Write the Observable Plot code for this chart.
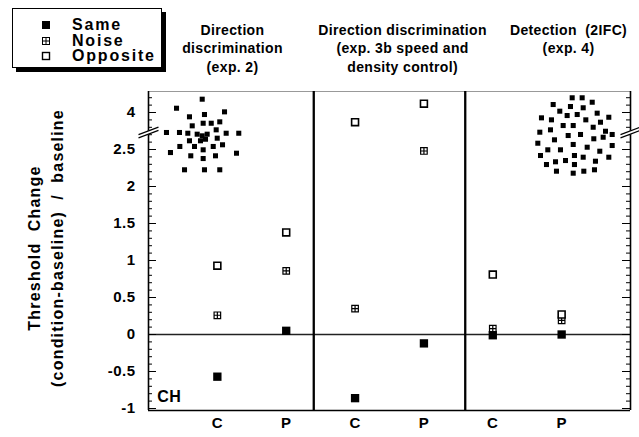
<!DOCTYPE html>
<html><head><meta charset="utf-8">
<script src="https://cdn.jsdelivr.net/npm/d3@7"></script>
<script src="https://cdn.jsdelivr.net/npm/@observablehq/plot@0.6"></script>
<style>
body{margin:0;background:#fff;font-family:"Liberation Sans",Arial,Helvetica,sans-serif;}
#wrap{position:relative;width:639px;height:437px;}
#wrap > svg{position:absolute;left:0;top:0;overflow:visible;}
.legend{position:absolute;left:12px;top:8px;width:148px;height:58px;border:1.5px solid #000;box-shadow:4px 4px 0 #000;background:#fff;}
.legend .row{position:absolute;left:0;height:16px;display:flex;align-items:center;}
.legend .row svg{display:block;margin-left:28px;margin-right:21px;}
.legend .row span{font-weight:bold;font-size:16px;letter-spacing:1.8px;line-height:16px;}
.ylab text{letter-spacing:1.2px;}
.ttl text{letter-spacing:0.35px;}
.tk text{letter-spacing:0.5px;}
</style></head><body><div id="wrap"></div>
<script>
// ---- data ----
const conditions = ["C", "P", "C", "P", "C", "P"];
const conditionX = [1, 2, 3, 4, 5, 6];
const same     = [-0.57, 0.05, -0.86, -0.12, -0.01, 0.00];
const noise    = [0.26, 0.86, 0.35, 2.48, 0.08, 0.19];
const opposite = [0.93, 1.38, 3.87, 4.12, 0.81, 0.27];
const seriesNames = ["Same", "Noise", "Opposite"];
const panelTitles = ["Direction\ndiscrimination\n(exp. 2)", "Direction discrimination\n(exp. 3b speed and\ndensity control)", "Detection  (2IFC)\n(exp. 4)"];
const titleX = [1.22, 3.69, 6.1];
const dividers = [2.4, 4.6];
const yTickValues = [-1, -0.5, 0, 0.5, 1, 1.5, 2, 2.5, 4];
const yTickLabels = ["-1", "-0.5", "0", "0.5", "1", "1.5", "2", "2.5", "4"];
const yLabel = "Threshold  Change\n(condition-baseline)  /  baseline";
const panelNote = "CH";
// stimulus illustrations (random-dot patches), x in condition units, y in axis units
const dotsExp2 = [[0.780,3.180],[0.407,3.058],[1.104,3.009],[0.595,2.942],[0.813,2.973],[1.035,2.874],[0.635,2.820],[0.794,2.855],[0.911,2.855],[0.983,2.766],[0.261,2.730],[0.450,2.730],[0.571,2.720],[1.128,2.720],[1.311,2.720],[0.707,2.707],[0.780,2.685],[0.755,2.618],[0.828,2.639],[0.852,2.707],[0.595,2.618],[0.998,2.653],[1.075,2.564],[0.455,2.541],[0.668,2.541],[0.940,2.541],[0.794,2.496],[0.319,2.459],[1.278,2.450],[0.614,2.415],[0.973,2.415],[0.794,2.378],[0.523,2.226],[0.813,2.226],[1.035,2.226]];
const dotsExp4 = [[6.153,3.199],[6.298,3.199],[6.444,3.139],[5.877,3.108],[6.128,3.081],[6.313,3.064],[5.973,3.018],[6.516,2.991],[6.080,2.959],[6.226,2.973],[5.707,2.928],[5.852,2.901],[6.351,2.901],[6.685,2.936],[6.564,2.869],[6.022,2.824],[6.168,2.824],[6.458,2.801],[5.683,2.734],[5.838,2.766],[6.637,2.747],[6.095,2.689],[6.274,2.703],[6.467,2.645],[6.603,2.666],[6.734,2.703],[5.896,2.631],[5.654,2.585],[6.168,2.568],[6.734,2.554],[6.371,2.531],[5.799,2.496],[5.983,2.496],[6.554,2.477],[6.186,2.419],[5.693,2.419],[6.313,2.396],[6.685,2.396],[6.056,2.351],[5.911,2.334],[5.780,2.297],[6.186,2.297],[6.491,2.342],[5.925,2.207],[6.168,2.180],[6.322,2.207],[6.477,2.226]];

// ---- broken axis: values above the break are shifted down by 1 ----
const breakAt = 2.73;
const brk = v => v >= 3.5 ? v - 1 : v;
const yDomain = [-1.027, 3.284];
const xDomain = [0, 7];

const minorTicks = d3.range(-10, 28).map(i => i / 10).filter(v => Math.abs(v * 2 - Math.round(v * 2)) > 1e-6)
  .concat([3.8, 3.9, 4.1, 4.2]);

const squareSym = {draw(ctx, size) { const s = Math.sqrt(size) / 2; ctx.rect(-s, -s, 2 * s, 2 * s); }};
const squarePlusSym = {draw(ctx, size) {
  const s = Math.sqrt(size) / 2;
  ctx.rect(-s, -s, 2 * s, 2 * s);
  ctx.moveTo(0, -s); ctx.lineTo(0, s);
  ctx.moveTo(-s, 0); ctx.lineTo(s, 0);
}};

const rows = (vals) => conditionX.map((x, i) => ({x, y: brk(vals[i])}));
const bold = {fontWeight: "bold", fill: "black"};
const tkLen = 0.116, tkMin = 0.058;
const brkDx = 0.145, brkDy = 0.05, brkSep = 0.022;
const breaks = [xDomain[0], xDomain[1]];

const plot = Plot.plot({
  width: 639, height: 437,
  marginLeft: 148, marginRight: 9, marginTop: 91, marginBottom: 27,
  x: {domain: xDomain, axis: null},
  y: {domain: yDomain, axis: null},
  style: {fontFamily: "'Liberation Sans', Arial, Helvetica, sans-serif", background: "white", overflow: "visible"},
  marks: [
    Plot.ruleY([yDomain[1]], {stroke: "#999", strokeWidth: 1}),
    Plot.ruleY([0], {stroke: "#222", strokeWidth: 1.4}),
    // inward ticks left and right
    Plot.ruleY(yTickValues, {y: brk, x1: xDomain[0], x2: xDomain[0] + tkLen, stroke: "black", strokeWidth: 1}),
    Plot.ruleY(minorTicks, {y: brk, x1: xDomain[0], x2: xDomain[0] + tkMin, stroke: "black", strokeWidth: 1}),
    Plot.ruleY(yTickValues, {y: brk, x1: xDomain[1] - tkLen, x2: xDomain[1], stroke: "black", strokeWidth: 1}),
    Plot.ruleY(minorTicks, {y: brk, x1: xDomain[1] - tkMin, x2: xDomain[1], stroke: "black", strokeWidth: 1}),
    Plot.ruleX(xDomain, {stroke: "black", strokeWidth: 1.6}),
    Plot.ruleX(dividers, {stroke: "black", strokeWidth: 2.3}),
    Plot.ruleY([yDomain[0]], {stroke: "black", strokeWidth: 1.6}),
    // axis break marks
    Plot.link(breaks, {x1: d => d - brkDx, x2: d => d + brkDx, y1: breakAt - brkDy, y2: breakAt + brkDy, stroke: "white", strokeWidth: 3.5}),
    Plot.link(breaks, {x1: d => d - brkDx, x2: d => d + brkDx, y1: breakAt - brkDy + brkSep, y2: breakAt + brkDy + brkSep, stroke: "black", strokeWidth: 1.2}),
    Plot.link(breaks, {x1: d => d - brkDx, x2: d => d + brkDx, y1: breakAt - brkDy - brkSep, y2: breakAt + brkDy - brkSep, stroke: "black", strokeWidth: 1.2}),
    // stimulus dots
    Plot.dot(dotsExp2, {x: d => d[0], y: d => d[1], symbol: squareSym, r: 2.85, fill: "black", stroke: null}),
    Plot.dot(dotsExp4, {x: d => d[0], y: d => d[1], symbol: squareSym, r: 2.85, fill: "black", stroke: null}),
    // data
    Plot.dot(rows(noise), {x: "x", y: "y", symbol: squarePlusSym, r: 3.7, fill: "white", stroke: "black", strokeWidth: 1.2}),
    Plot.dot(rows(opposite), {x: "x", y: "y", symbol: squareSym, r: 3.9, fill: "white", stroke: "black", strokeWidth: 1.6}),
    Plot.dot(rows(same), {x: "x", y: "y", symbol: squareSym, r: 4.7, fill: "black", stroke: null}),
    // texts
    Plot.text(yTickValues, {y: brk, frameAnchor: "left", dx: -13, textAnchor: "end", text: (d, i) => yTickLabels[i], fontSize: 15, ...bold, className: "tk"}),
    Plot.text(conditionX, {x: d => d, frameAnchor: "bottom", dy: 17, text: (d, i) => conditions[i], fontSize: 15, ...bold, className: "tk"}),
    Plot.text([panelNote], {x: 0.126, y: -0.847, textAnchor: "start", fontSize: 16, ...bold, className: "tk"}),
    Plot.text(panelTitles, {x: (d, i) => titleX[i], y: 4.23, text: d => d, lineAnchor: "top", lineHeight: 1.32, fontSize: 14, ...bold, className: "ttl"}),
    Plot.text([yLabel], {frameAnchor: "left", dx: -104, dy: -3, rotate: -90, textAnchor: "middle", lineAnchor: "middle", text: d => d, lineHeight: 1.4, fontSize: 16, ...bold, className: "ylab"})
  ]
});

const wrap = document.getElementById("wrap");
wrap.appendChild(plot);

// legend (HTML, above the chart)
const legendSym = {
  Same: '<rect x="1" y="1" width="8" height="8" fill="black"/>',
  Noise: '<rect x="1.5" y="1.5" width="7" height="7" fill="white" stroke="black" stroke-width="1"/><path d="M5 1.5V8.5M1.5 5H8.5" stroke="black" stroke-width="1"/>',
  Opposite: '<rect x="1.5" y="1.5" width="7" height="7" fill="white" stroke="black" stroke-width="1.4"/>'
};
const leg = document.createElement("div");
leg.className = "legend";
seriesNames.forEach((name, i) => {
  const r = document.createElement("div");
  r.className = "row";
  r.style.top = (8 + i * 15.5) + "px";
  r.innerHTML = `<svg width="10" height="10" viewBox="0 0 10 10">${legendSym[name]}</svg><span>${name}</span>`;
  leg.appendChild(r);
});
wrap.appendChild(leg);
</script>
</body></html>
